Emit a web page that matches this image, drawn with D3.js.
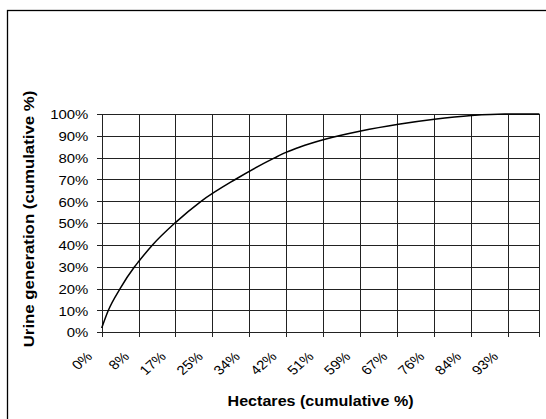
<!DOCTYPE html>
<html>
<head>
<meta charset="utf-8">
<script src="https://cdn.jsdelivr.net/npm/d3@7"></script>
<style>
  body { margin: 0; background: #fff; }
  text { font-family: Arial, "Liberation Sans", sans-serif; fill: #000; }
</style>
</head>
<body>
<script>
// values
var hectaresPct = [0, 1.5, 4.2, 7.5, 8.4, 11.6, 16.7, 22.7, 30.5, 39.6, 42.1, 45.3, 50.8, 59.2, 67.8, 76.0, 84.5, 92.1, 100];
var urinePct    = [2, 10, 20, 30, 32.3, 40, 50, 60, 70, 80, 82.4, 84.9, 88.3, 92.2, 95.3, 97.6, 99.3, 100, 100];

var xTickLabels = ['0%', '8%', '17%', '25%', '34%', '42%', '51%', '59%', '67%', '76%', '84%', '93%'];
var xTickStep = 8.43; // hectare % between labelled categories
var yTicks = [0, 10, 20, 30, 40, 50, 60, 70, 80, 90, 100];

var width = 546, height = 419;
var plot = { left: 101.7, right: 539.4, top: 114, bottom: 332.3 };
var stretch = 1.15; // the picture is a horizontally stretched excel chart

var svg = d3.select('body').append('svg')
  .attr('width', width)
  .attr('height', height);

// outer chart border (runs off the right and bottom)
svg.append('rect')
  .attr('x', 7.5)
  .attr('y', 10.5)
  .attr('width', 600)
  .attr('height', 500)
  .attr('fill', 'none')
  .attr('stroke', '#000')
  .attr('stroke-width', 1.3);

var x = d3.scaleLinear().domain([0, 100]).range([plot.left, plot.right]);
var y = d3.scaleLinear().domain([0, 100]).range([plot.bottom, plot.top]);

var xTickValues = xTickLabels.map(function (d, i) { return i * xTickStep; });

// gridlines
var grid = svg.append('g').attr('stroke', '#222').attr('shape-rendering', 'crispEdges');
grid.selectAll('.h').data(yTicks).enter().append('line')
  .attr('x1', plot.left - 5).attr('x2', plot.right)
  .attr('y1', function (d) { return Math.round(y(d)) + 0.5; })
  .attr('y2', function (d) { return Math.round(y(d)) + 0.5; });
grid.selectAll('.v').data(xTickValues.concat([100])).enter().append('line')
  .attr('y1', plot.top).attr('y2', plot.bottom + 5)
  .attr('x1', function (d) { return Math.round(x(d)) + 0.5; })
  .attr('x2', function (d) { return Math.round(x(d)) + 0.5; });

// y axis labels
var yAxis = d3.axisLeft(y)
  .tickValues(yTicks)
  .tickSize(0)
  .tickPadding(0)
  .tickFormat(function (d) { return d + '%'; });

var gy = svg.append('g')
  .attr('transform', 'translate(' + plot.left + ',0)')
  .call(yAxis);
gy.select('.domain').remove();
gy.selectAll('text')
  .attr('x', -11.6)
  .attr('dy', '0.36em')
  .attr('transform', 'scale(' + stretch + ',1)')
  .style('font-size', '13px')
  .style('font-family', 'Arial, "Liberation Sans", sans-serif');

// x axis labels, rotated
var xAxis = d3.axisBottom(x)
  .tickValues(xTickValues)
  .tickSize(0)
  .tickFormat(function (d, i) { return xTickLabels[i]; });

var gx = svg.append('g')
  .attr('transform', 'translate(0,' + plot.bottom + ')')
  .call(xAxis);
gx.select('.domain').remove();
gx.selectAll('text')
  .attr('x', 0)
  .attr('y', 0)
  .attr('dy', 0)
  .attr('text-anchor', 'end')
  .attr('transform', 'translate(-9,25) scale(' + stretch + ',1) rotate(-45)')
  .style('font-size', '13px')
  .style('font-family', 'Arial, "Liberation Sans", sans-serif');

// curve
var line = d3.line()
  .x(function (d) { return x(d[0]); })
  .y(function (d) { return y(d[1]); })
  .curve(d3.curveMonotoneX);

svg.append('path')
  .datum(d3.zip(hectaresPct, urinePct))
  .attr('d', line)
  .attr('fill', 'none')
  .attr('stroke', '#000')
  .attr('stroke-width', 1.5);

// axis titles
svg.append('text')
  .attr('transform', 'translate(' + ((plot.left + plot.right) / 2) + ',406) scale(' + stretch + ',1)')
  .attr('text-anchor', 'middle')
  .style('font-size', '14px')
  .style('font-weight', 'bold')
  .text('Hectares (cumulative %)');

svg.append('text')
  .attr('transform', 'translate(34,219) rotate(-90) scale(1.2,1)')
  .attr('text-anchor', 'middle')
  .style('font-size', '14px')
  .style('font-weight', 'bold')
  .text('Urine generation (cumulative %)');
</script>
</body>
</html>
